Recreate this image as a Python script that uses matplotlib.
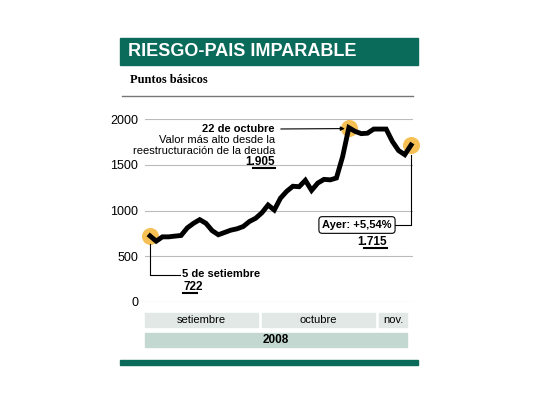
import matplotlib
matplotlib.use("Agg")
import matplotlib.pyplot as plt
from matplotlib.patches import Rectangle

plt.rcParams['font.family'] = ['Liberation Sans Narrow', 'Liberation Sans', 'DejaVu Sans']

values = [722, 665, 712, 712, 720, 727, 810, 860, 900, 860, 780, 735, 760, 785, 800, 825,
          880, 915, 975, 1060, 1005, 1135, 1210, 1265, 1260, 1330, 1220, 1300, 1340, 1335,
          1355, 1590, 1905, 1865, 1840, 1845, 1890, 1890, 1890, 1755, 1655, 1610, 1715]
yticks = [0, 500, 1000, 1500, 2000]
months = ["setiembre", "octubre", "nov."]
year = "2008"
title = "RIESGO-PAIS IMPARABLE"
subtitle = "Puntos básicos"

W, H = 540, 405
fig = plt.figure(figsize=(5.4, 4.05), dpi=100)
GREEN = "#0b6b5a"

def fx(px): return px / W
def fy(py): return 1 - py / H

def frect(x0, y0, x1, y1, color):
    fig.patches.append(Rectangle((fx(x0), fy(y1)), fx(x1) - fx(x0), fy(y0) - fy(y1),
                                 transform=fig.transFigure, color=color, zorder=0))

# header
frect(120, 38, 418, 65, GREEN)
fig.text(fx(128), fy(51.5), title, color="white", fontsize=13, fontweight="bold", va="center")
fig.text(fx(130), fy(80), subtitle, color="black", fontsize=9, fontweight="bold",
         family=["Liberation Serif", "DejaVu Serif"], va="center")
fig.add_artist(plt.Line2D([fx(122), fx(413)], [fy(96), fy(96)], color="#777777", lw=1))

# axes
n = len(values)
ax = fig.add_axes([fx(145), fy(302), fx(413) - fx(145), fy(119) - fy(302)])
ax.set_ylim(0, 2000)
x0, x1 = 150, 411
scale = (x1 - x0) / (n - 1)
ax.set_xlim(-(x0 - 145) / scale, (n - 1) + (413 - x1) / scale)
for s in ax.spines.values():
    s.set_visible(False)
ax.set_xticks([])
ax.set_yticks(yticks)
ax.tick_params(axis="y", length=0, pad=5, labelsize=9)
for t in yticks:
    ax.axhline(t, color="#bbbbbb", lw=0.8, zorder=1)
ax.plot(range(n), values, color="black", lw=3.5, zorder=3, clip_on=False, solid_joinstyle="miter")

ip = values.index(max(values))
for i in [0, ip, n - 1]:
    ax.scatter([i], [values[i]], s=150, color="#f6b942", alpha=0.9, zorder=2, clip_on=False, lw=0)

def d(px, py):
    return ((px - x0) / scale, (302 - py) * 2000 / 183)

# peak annotation
ax.annotate("", xy=(ip - 0.2, values[ip] * 0.995), xytext=d(278, 129),
            arrowprops=dict(arrowstyle="-|>", color="black", lw=0.8, mutation_scale=6), annotation_clip=False)
ax.text(*d(275, 129), "22 de octubre", ha="right", va="center", fontsize=8, fontweight="bold")
ax.text(*d(275, 140), "Valor más alto desde la", ha="right", va="center", fontsize=8)
ax.text(*d(275, 151), "reestructuración de la deuda", ha="right", va="center", fontsize=8)
ax.text(*d(275, 162), "1.905", ha="right", va="center", fontsize=8.5, fontweight="bold")
ax.plot(*zip(d(253, 168), d(275, 168)), color="black", lw=1.5, clip_on=False)

# start annotation
ax.plot(*zip(d(150, 244), d(150, 275), d(180, 275)), color="black", lw=0.8, clip_on=False)
ax.text(*d(182, 274), "5 de setiembre", ha="left", va="center", fontsize=8, fontweight="bold")
ax.text(*d(183, 287), "722", ha="left", va="center", fontsize=8.5, fontweight="bold")
ax.plot(*zip(d(183, 293), d(197, 293)), color="black", lw=1.5, clip_on=False)

# end annotation
ax.plot(*zip(d(385, 225), d(411, 225), d(411, 155)), color="black", lw=0.8, clip_on=False)
ax.text(*d(357, 225), "Ayer: +5,54%", ha="center", va="center", fontsize=8, fontweight="bold",
        bbox=dict(boxstyle="round,pad=0.3,rounding_size=0.3", fc="white", ec="black", lw=0.8))
ax.text(*d(387, 242), "1.715", ha="right", va="center", fontsize=8.5, fontweight="bold")
ax.plot(*zip(d(364, 248), d(387, 248)), color="black", lw=1.5, clip_on=False)

# month bars
for (a, b), m in zip([(145, 258), (262, 375), (379, 407)], months):
    frect(a, 313, b, 327, "#e1e8e6")
    fig.text(fx((a + b) / 2), fy(320), m, ha="center", va="center", fontsize=8)
frect(145, 333, 407, 347, "#c2d8d0")
fig.text(fx(276), fy(340), year, ha="center", va="center", fontsize=8.5, fontweight="bold")
frect(120, 360, 418, 365, GREEN)

fig.savefig("out.png", dpi=100)
